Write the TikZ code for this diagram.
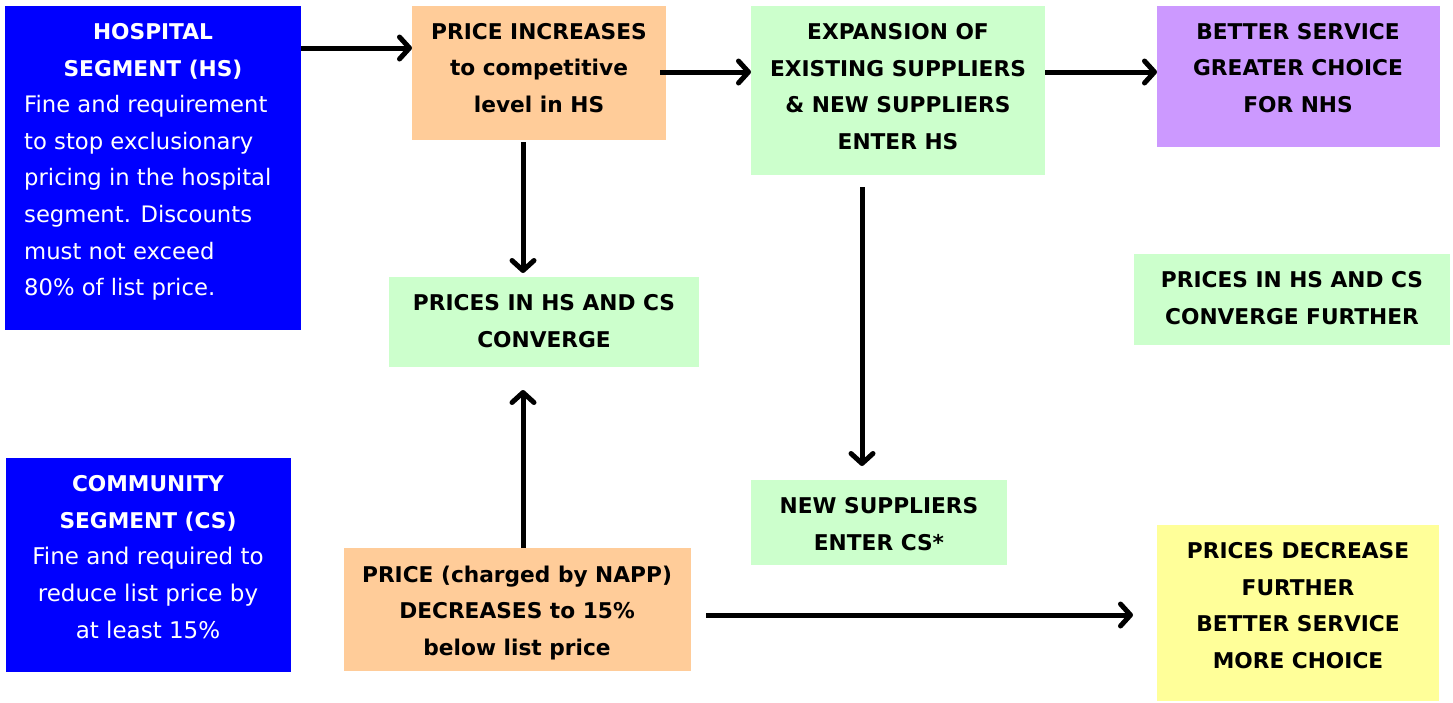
\documentclass[tikz,border=0pt]{standalone}
\usepackage{fontspec}
\setmainfont{DejaVu Sans}
\usetikzlibrary{arrows.meta}
\definecolor{hsblue}{HTML}{0000FF}
\definecolor{peach}{HTML}{FFCC99}
\definecolor{mint}{HTML}{CCFFCC}
\definecolor{lilac}{HTML}{CC99FF}
\definecolor{lemon}{HTML}{FFFF99}
\begin{document}
\begin{tikzpicture}[x=1pt,y=-1pt,
  box/.style={draw=none,inner sep=0pt,outer sep=0pt},
  lbl/.style={font=\fontsize{21.7}{36.7}\selectfont\bfseries, align=center, inner sep=0pt},
  body/.style={font=\fontsize{22.7}{36.7}\selectfont, inner sep=0pt},
  arr/.style={line width=5pt, -{Straight Barb[length=10pt,width=22pt,round]}}]
\useasboundingbox (0,0) rectangle (1453,702);

% boxes
\node[box, fill=hsblue, minimum width=296pt, minimum height=324pt] (hs) at (153,168) {};
\node[box, fill=peach, minimum width=254pt, minimum height=134pt] (ot) at (539,73) {};
\node[box, fill=mint, minimum width=294pt, minimum height=169pt] (gt) at (898,90.5) {};
\node[box, fill=lilac, minimum width=283pt, minimum height=141pt] (pp) at (1298.5,76.5) {};
\node[box, fill=mint, minimum width=310pt, minimum height=90pt] (conv) at (544,322) {};
\node[box, fill=mint, minimum width=316pt, minimum height=91pt] (convf) at (1292,299.5) {};
\node[box, fill=hsblue, minimum width=285pt, minimum height=214pt] (cs) at (148.5,565) {};
\node[box, fill=peach, minimum width=347pt, minimum height=123pt] (ob) at (517.5,609.5) {};
\node[box, fill=mint, minimum width=256pt, minimum height=85pt] (ns) at (879,522.5) {};
\node[box, fill=lemon, minimum width=282pt, minimum height=176pt] (yl) at (1298,613) {};

% texts
\node[lbl, text=white] (hs-h) at (153,51.5) {HOSPITAL\\SEGMENT (HS)};
\node[body, text=white, align=left, anchor=north west] (hs-b) at (24,95) {Fine and requirement\\to stop exclusionary\\pricing in the hospital\\segment. Discounts\\must not exceed\\80\% of list price.};
\node[lbl] (ot-t) at (539,68) {PRICE INCREASES\\to competitive\\level in HS};
\node[lbl] (gt-t) at (898,86.5) {EXPANSION OF\\EXISTING SUPPLIERS\\\& NEW SUPPLIERS\\ENTER HS};
\node[lbl] (pp-t) at (1298,68) {BETTER SERVICE\\GREATER CHOICE\\FOR NHS};
\node[lbl] (conv-t) at (544,321) {PRICES IN HS AND CS\\CONVERGE};
\node[lbl] (convf-t) at (1292,298) {PRICES IN HS AND CS\\CONVERGE FURTHER};
\node[lbl, text=white] (cs-h) at (148,503.5) {COMMUNITY\\SEGMENT (CS)};
\node[body, text=white, align=center, font=\fontsize{23}{36.7}\selectfont] (cs-b) at (148,593) {Fine and required to\\reduce list price by\\at least 15\%};
\node[lbl] (ob-t) at (517,613) {PRICE (charged by NAPP)\\DECREASES to 15\%\\below list price};
\node[lbl] (ns-t) at (879,524) {NEW SUPPLIERS\\ENTER CS*};
\node[lbl] (yl-t) at (1298,605.5) {PRICES DECREASE\\FURTHER\\BETTER SERVICE\\MORE CHOICE};

% connectors
\draw[arr] (hs.east |- 0,48) -- (ot.west |- 0,48);
\draw[arr, shorten <=-6pt] (ot.east |- 0,72) -- (gt.west |- 0,72);
\draw[arr] (gt.east |- 0,72) -- (pp.west |- 0,72);
\draw[arr, shorten <=2pt, shorten >=4pt] (ot.south -| 523,0) -- (conv.north -| 523,0);
\draw[arr, shorten <=12pt, shorten >=14pt] (gt.south -| 862,0) -- (ns.north -| 862,0);
\draw[arr, shorten >=23pt] (ob.north -| 523,0) -- (conv.south -| 523,0);
\draw[arr, shorten <=15pt, shorten >=24pt] (ob.east |- 0,615) -- (yl.west |- 0,615);
\end{tikzpicture}
\end{document}
